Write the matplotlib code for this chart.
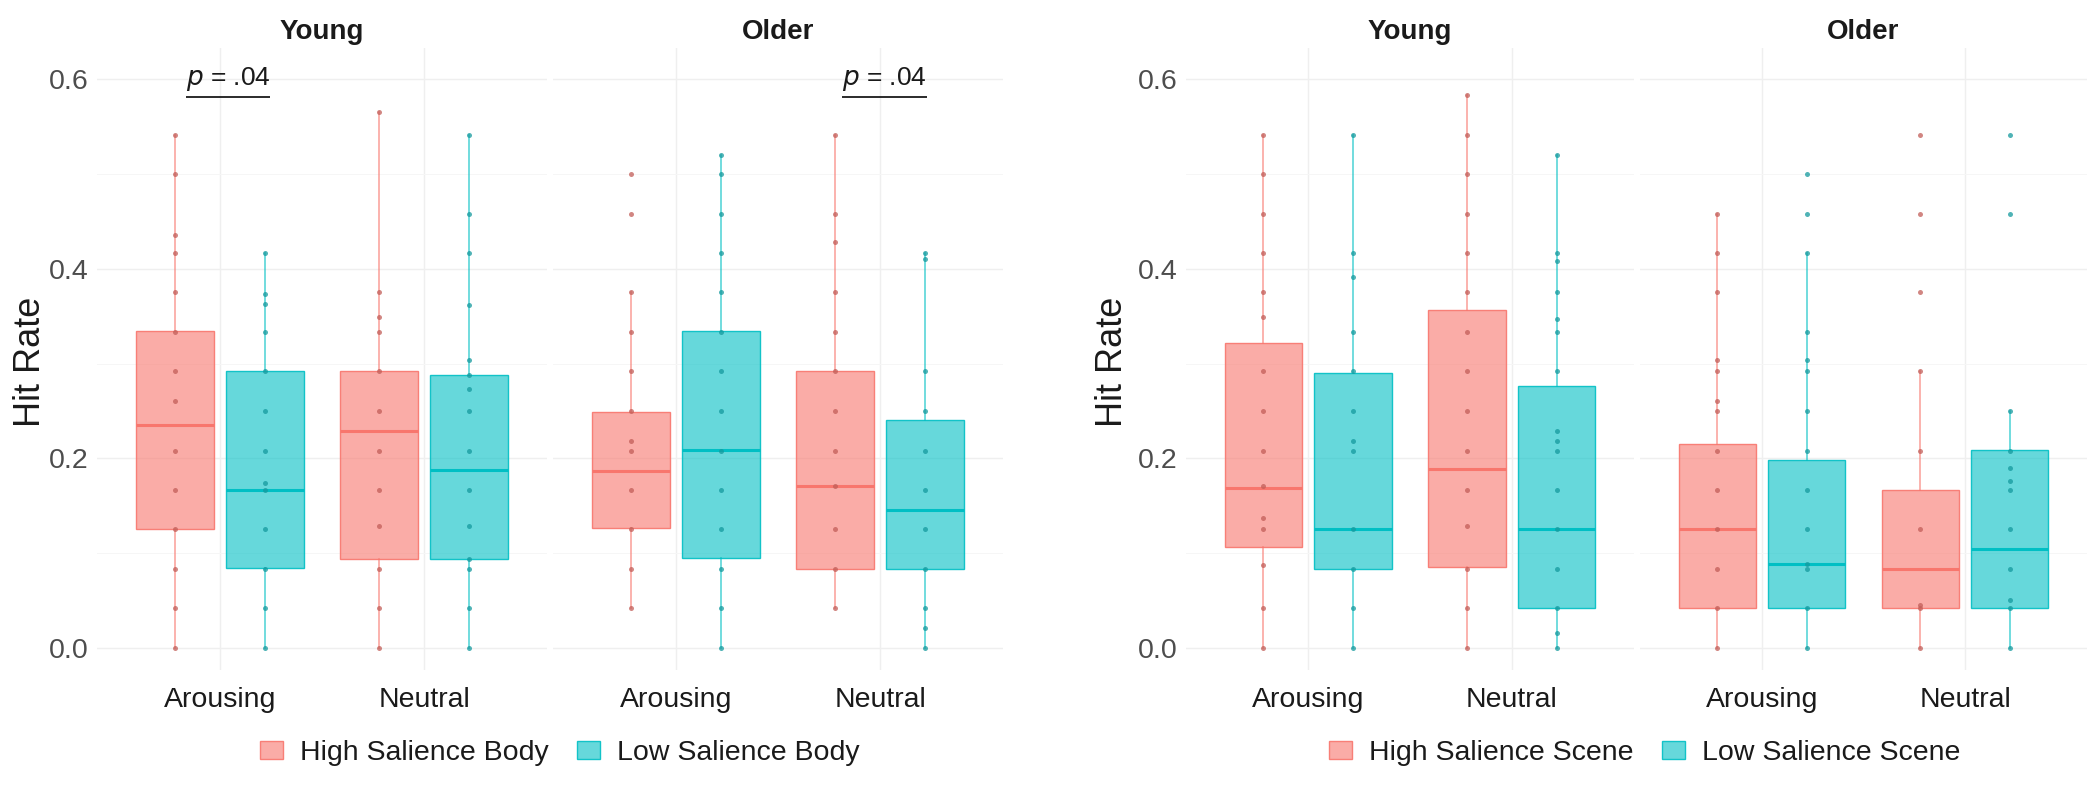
import matplotlib.pyplot as plt
from matplotlib.patches import Patch
from matplotlib.ticker import MultipleLocator

plt.rcParams['font.family'] = ['Liberation Sans', 'DejaVu Sans']

emotions = ['Arousing', 'Neutral']
ages = ['Young', 'Older']
# group order in every list: Young-Arousing, Young-Neutral, Older-Arousing, Older-Neutral

# ---- Body panel ----
body_high_q1 = [0.125, 0.094, 0.127, 0.083]
body_high_med = [0.235, 0.229, 0.187, 0.171]
body_high_q3 = [0.334, 0.292, 0.249, 0.292]
body_high_lo = [0.0, 0.0, 0.042, 0.042]
body_high_hi = [0.541, 0.565, 0.375, 0.541]
body_high_pts = [
    [0.541, 0.5, 0.435, 0.417, 0.375, 0.333, 0.292, 0.26, 0.208, 0.167, 0.125, 0.083, 0.042, 0.0],
    [0.565, 0.375, 0.349, 0.333, 0.292, 0.25, 0.208, 0.167, 0.129, 0.083, 0.042, 0.0],
    [0.5, 0.458, 0.375, 0.333, 0.292, 0.25, 0.218, 0.208, 0.167, 0.125, 0.083, 0.042],
    [0.541, 0.458, 0.428, 0.375, 0.333, 0.292, 0.25, 0.208, 0.171, 0.125, 0.083, 0.042],
]
body_low_q1 = [0.084, 0.094, 0.095, 0.083]
body_low_med = [0.167, 0.188, 0.209, 0.146]
body_low_q3 = [0.292, 0.288, 0.334, 0.240]
body_low_lo = [0.0, 0.0, 0.0, 0.0]
body_low_hi = [0.417, 0.541, 0.52, 0.417]
body_low_pts = [
    [0.417, 0.373, 0.363, 0.333, 0.292, 0.25, 0.208, 0.174, 0.167, 0.125, 0.083, 0.042, 0.0],
    [0.541, 0.458, 0.417, 0.362, 0.304, 0.288, 0.273, 0.25, 0.208, 0.167, 0.129, 0.094, 0.083, 0.042, 0.0],
    [0.52, 0.5, 0.458, 0.417, 0.375, 0.333, 0.292, 0.25, 0.208, 0.167, 0.125, 0.083, 0.042, 0.0],
    [0.417, 0.41, 0.292, 0.25, 0.208, 0.167, 0.125, 0.083, 0.042, 0.021, 0.0],
]

# ---- Scene panel ----
scene_high_q1 = [0.107, 0.085, 0.042, 0.042]
scene_high_med = [0.169, 0.189, 0.126, 0.083]
scene_high_q3 = [0.322, 0.356, 0.215, 0.167]
scene_high_lo = [0.0, 0.0, 0.0, 0.0]
scene_high_hi = [0.541, 0.583, 0.458, 0.292]
scene_high_pts = [
    [0.541, 0.5, 0.458, 0.417, 0.375, 0.349, 0.292, 0.25, 0.208, 0.171, 0.137, 0.125, 0.088, 0.042, 0.0],
    [0.583, 0.541, 0.5, 0.458, 0.417, 0.375, 0.333, 0.292, 0.25, 0.208, 0.167, 0.129, 0.083, 0.042, 0.0],
    [0.458, 0.417, 0.375, 0.304, 0.292, 0.26, 0.25, 0.208, 0.167, 0.125, 0.083, 0.042, 0.0],
    [0.541, 0.458, 0.375, 0.292, 0.208, 0.125, 0.045, 0.042, 0.0],
]
scene_low_q1 = [0.083, 0.042, 0.042, 0.042]
scene_low_med = [0.126, 0.126, 0.089, 0.104]
scene_low_q3 = [0.290, 0.276, 0.198, 0.209]
scene_low_lo = [0.0, 0.0, 0.0, 0.0]
scene_low_hi = [0.541, 0.52, 0.417, 0.25]
scene_low_pts = [
    [0.541, 0.417, 0.391, 0.333, 0.292, 0.25, 0.218, 0.208, 0.125, 0.083, 0.042, 0.0],
    [0.52, 0.417, 0.408, 0.375, 0.347, 0.333, 0.292, 0.229, 0.218, 0.208, 0.167, 0.125, 0.083, 0.042, 0.016, 0.0],
    [0.5, 0.458, 0.417, 0.333, 0.304, 0.292, 0.25, 0.208, 0.167, 0.125, 0.089, 0.083, 0.042, 0.0],
    [0.541, 0.458, 0.25, 0.208, 0.19, 0.176, 0.167, 0.125, 0.083, 0.051, 0.042, 0.0],
]

PINK = '#F8766D'
TEAL = '#00BFC4'
PINK_DOT = '#C25E58'
TEAL_DOT = '#159A9E'

W, H = 2100, 791
fig = plt.figure(figsize=(W / 100, H / 100), dpi=100)


def px_axes(x0, x1, y0, y1):
    return fig.add_axes([x0 / W, 1 - y1 / H, (x1 - x0) / W, (y1 - y0) / H])


def style_axes(ax, show_y):
    ax.set_xlim(0.4, 2.6)
    ax.set_ylim(-0.0232, 0.6327)
    ax.yaxis.set_major_locator(MultipleLocator(0.2))
    ax.yaxis.set_minor_locator(MultipleLocator(0.1))
    ax.grid(True, which='major', color='#EFEFEF', lw=1.0)
    ax.grid(True, which='minor', axis='y', color='#F6F6F6', lw=0.7)
    ax.set_axisbelow(True)
    for s in ax.spines.values():
        s.set_visible(False)
    ax.tick_params(which='both', length=0, labelsize=20.5)
    ax.tick_params(axis='x', pad=12, labelcolor='#1A1A1A')
    ax.tick_params(axis='y', pad=6, labelcolor='#4D4D4D')
    if not show_y:
        ax.tick_params(axis='y', labelleft=False)


def draw_group(ax, pos, q1, med, q3, lo, hi, pts, color, dot):
    stats = [dict(med=med, q1=q1, q3=q3, whislo=lo, whishi=hi, fliers=[])]
    ax.bxp(stats, positions=[pos], widths=0.38, patch_artist=True,
           showfliers=False, showcaps=False,
           boxprops=dict(facecolor=(color, 0.6), edgecolor=(color, 0.9), linewidth=1.0),
           medianprops=dict(color=color, linewidth=2.2),
           whiskerprops=dict(color=color, linewidth=1.2, alpha=0.65))
    ax.plot([pos] * len(pts), pts, 'o', color=dot, ms=3.6, alpha=0.75,
            mec='none', zorder=5)


def draw_panel(xs, hq1, hmed, hq3, hlo, hhi, hpts,
               lq1, lmed, lq3, llo, lhi, lpts, ylab_x, legend_labels, legend_x):
    axes = []
    for k, (xa, xb) in enumerate(xs):
        ax = px_axes(xa, xb, 48, 670)
        style_axes(ax, k == 0)
        for j in range(2):
            g = 2 * k + j
            draw_group(ax, j + 1 - 0.22, hq1[g], hmed[g], hq3[g], hlo[g], hhi[g],
                       hpts[g], PINK, PINK_DOT)
            draw_group(ax, j + 1 + 0.22, lq1[g], lmed[g], lq3[g], llo[g], lhi[g],
                       lpts[g], TEAL, TEAL_DOT)
        ax.set_xticks([1, 2])
        ax.set_xticklabels(emotions)
        fig.text((xa + xb) / 2 / W, 1 - 32 / H, ages[k], ha='center', va='center',
                 fontsize=20, fontweight='bold', color='#1A1A1A')
        axes.append(ax)
    fig.text(ylab_x / W, 1 - 362 / H, 'Hit Rate', rotation=90, ha='center',
             va='center', fontsize=26, color='#1A1A1A')
    handles = [Patch(facecolor=(PINK, 0.6), edgecolor=(PINK, 0.9), label=legend_labels[0]),
               Patch(facecolor=(TEAL, 0.6), edgecolor=(TEAL, 0.9), label=legend_labels[1])]
    fig.legend(handles=handles, loc='center',
               bbox_to_anchor=(legend_x / W, 1 - 753 / H),
               ncol=2, frameon=False, fontsize=20.5, handlelength=0.8, handleheight=0.6,
               handletextpad=0.6, columnspacing=1.0, labelcolor='#1A1A1A')
    return axes


left_axes = draw_panel([(97, 547), (553, 1003)],
                       body_high_q1, body_high_med, body_high_q3, body_high_lo, body_high_hi, body_high_pts,
                       body_low_q1, body_low_med, body_low_q3, body_low_lo, body_low_hi, body_low_pts,
                       30, ['High Salience Body', 'Low Salience Body'], 560)
right_axes = draw_panel([(1186, 1634), (1640, 2087)],
                        scene_high_q1, scene_high_med, scene_high_q3, scene_high_lo, scene_high_hi, scene_high_pts,
                        scene_low_q1, scene_low_med, scene_low_q3, scene_low_lo, scene_low_hi, scene_low_pts,
                        1112, ['High Salience Scene', 'Low Salience Scene'], 1645)

# p-value annotations, underlined
p_texts = []
for ax, xpos in [(left_axes[0], 1.04), (left_axes[1], 2.02)]:
    t = ax.text(xpos, 0.6, r'$\it{p}$ = .04', ha='center', va='center',
                fontsize=19, color='#1A1A1A')
    p_texts.append((ax, t))

fig.canvas.draw()
renderer = fig.canvas.get_renderer()
for ax, t in p_texts:
    bb = t.get_window_extent(renderer).transformed(ax.transData.inverted())
    ax.plot([bb.x0, bb.x1], [bb.y0 - 0.004, bb.y0 - 0.004], color='#1A1A1A', lw=1.3,
            solid_capstyle='butt')

fig.savefig('out.png', dpi=100)
